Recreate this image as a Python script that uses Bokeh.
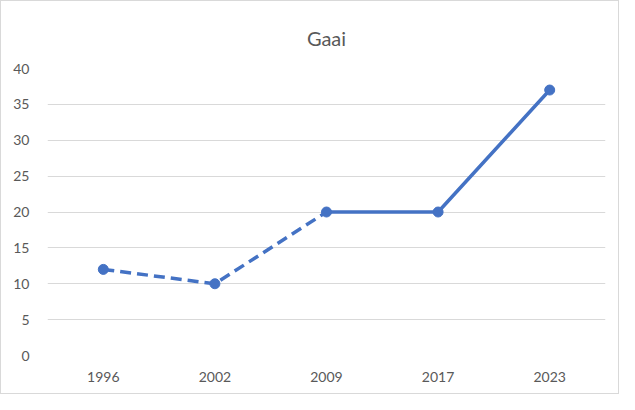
from bokeh.plotting import figure
from bokeh.models import FactorRange, Range1d, FixedTicker, Title
from bokeh.embed import file_html
from bokeh.resources import INLINE

title_text = "Gaai"
years = ["1996", "2002", "2009", "2017", "2023"]
values = [12, 10, 20, 20, 37]
dashed_years = years[0:3]
dashed_values = values[0:3]
solid_years = years[2:5]
solid_values = values[2:5]
y_ticks = [0, 5, 10, 15, 20, 25, 30, 35, 40]

FONT = "Lato"
TXT = "#595959"
BLUE = "#4472C4"
GRID = "#D9D9D9"

p = figure(width=619, height=394, x_range=FactorRange(*years, range_padding=0),
           y_range=Range1d(0, 40), output_backend="svg", toolbar_location=None,
           min_border_left=46, min_border_right=15, min_border_top=67, min_border_bottom=40)
p.title = None
t = Title(text=title_text, align="center", text_font=FONT, text_font_size="20px",
          text_color=TXT, text_font_style="normal", standoff=38)
p.add_layout(t, "above")

p.outline_line_color = None
p.styles = {"border": "1px solid #D9D9D9"}

p.xgrid.grid_line_color = None
p.ygrid.grid_line_color = GRID
p.ygrid.grid_line_width = 1
p.yaxis.ticker = FixedTicker(ticks=y_ticks)

for ax in (p.xaxis, p.yaxis):
    ax.axis_line_color = None
    ax.major_tick_line_color = None
    ax.minor_tick_line_color = None
    ax.major_label_text_font = FONT
    ax.major_label_text_font_size = "14px"
    ax.major_label_text_color = TXT
p.yaxis.major_label_standoff = 12
p.xaxis.major_label_standoff = 10

p.line(dashed_years, dashed_values, line_color=BLUE, line_width=3.5, line_dash="11 6")
p.line(solid_years, solid_values, line_color=BLUE, line_width=3.5)
p.scatter(years, values, size=10, fill_color=BLUE, line_color=BLUE)

open("out.html", "w").write(file_html(p, INLINE))
